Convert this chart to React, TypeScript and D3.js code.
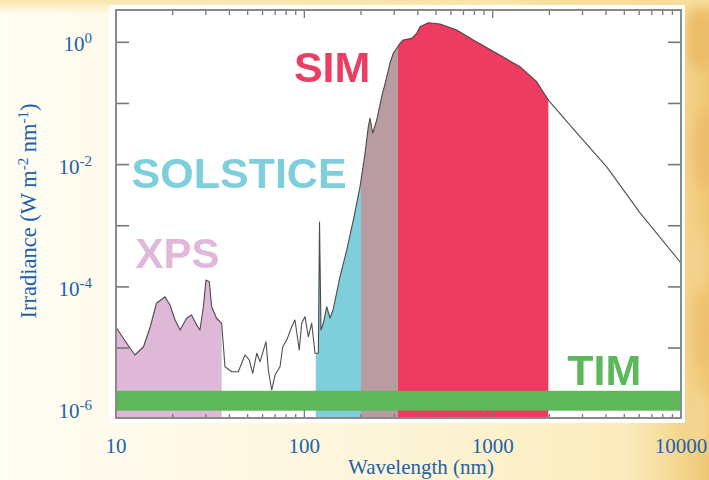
import React from "react";
import * as d3 from "d3";

// Solar spectral irradiance (nm, W m^-2 nm^-1)
const wavelengths = [
  10, 11.4, 12.6, 14.0, 15.2, 16.4, 18.2, 19.35, 20.6, 21.9,
  23.7, 25.2, 26.8, 27.9, 29.1, 30.05, 31.3, 32.2, 34.2, 36.4,
  37.9, 41.2, 44.6, 48.4, 51.0, 53.2, 55.9, 58.2, 62.6, 64.4,
  67.1, 69.9, 74.3, 76.8, 80.6, 85.7, 89.2, 94.0, 96.8, 100.8,
  105.0, 109.4, 114.0, 118.7, 120.4, 122.6, 126.1, 131.5, 136.9, 142.0,
  154.7, 167.9, 182.0, 197.6, 210.0, 218.7, 223.2, 230.7, 242.3, 257.5,
  271.5, 285.1, 296.8, 309.4, 322.2, 335.4, 371.6, 395.2, 411.4, 455.3,
  525.5, 644.2, 789.3, 1050, 1397, 1713, 1975, 2794, 4033, 6059,
  10000,
];
const irradiance = [
  2.18e-5, 1.2e-5, 7.7e-6, 1.05e-5, 2.23e-5, 5.4e-5, 6.9e-5, 5.06e-5, 2.88e-5, 1.97e-5,
  3.07e-5, 3.47e-5, 2.38e-5, 1.97e-5, 4.74e-5, 1.3e-4, 1.22e-4, 4.74e-5, 3.07e-5, 2.54e-5,
  4.95e-6, 4.1e-6, 4.1e-6, 7.7e-6, 6.4e-6, 3.86e-6, 8.2e-6, 5.98e-6, 1.27e-5, 4.38e-6,
  2.06e-6, 3.62e-6, 4.95e-6, 1.05e-5, 1.35e-5, 2.23e-5, 2.88e-5, 9.3e-6, 2.54e-5, 3.26e-5,
  1.53e-5, 2.54e-5, 8.2e-6, 8.2e-6, 1.15e-3, 1.97e-5, 2.54e-5, 4.74e-5, 3.1e-5, 4.19e-5,
  1.47e-4, 4.0e-4, 1.24e-3, 4.35e-3, 1.53e-2, 4.17e-2, 5.78e-2, 3.29e-2, 5.36e-2, 0.129,
  0.242, 0.459, 0.661, 0.798, 0.963, 1.09, 1.16, 1.40, 1.80, 2.09,
  1.99, 1.59, 1.09, 0.661, 0.399, 0.227, 0.1138, 0.0329, 9.2e-3, 1.62e-3,
  2.46e-4,
];

// Instrument coverage bands (nm)
const bandNames = ["XPS", "SOLSTICE", "SOLSTICE+SIM", "SIM"];
const bandFrom = [10, 115, 200, 314];
const bandTo = [36.4, 200, 314, 1975];

// TIM: total irradiance bar
const timRange = [1e-6, 2e-6];

// Labels: name, wavelength, irradiance anchor
const labelNames = ["SIM", "SOLSTICE", "XPS", "TIM"];
const labelWl = [88, 12.1, 12.7, 2490];
const labelIrr = [0.224, 4.14e-3, 2.04e-4, 2.49e-6];

const xTickLabels = ["10", "100", "1000", "10000"];
const yTickExps = [0, -2, -4, -6];

const fillColors: Record<string, string> = {
  XPS: "#dfb7d7",
  SOLSTICE: "#7fcedb",
  "SOLSTICE+SIM": "#b89ca2",
  SIM: "#ee3a62",
};
const labelColors: Record<string, string> = {
  SIM: "#ec3d62",
  SOLSTICE: "#7dcfdc",
  XPS: "#e0b9da",
  TIM: "#5cb85a",
};

const W = 709;
const H = 480;
const L = 116, R = 681, T = 10, B = 418;

const x = d3.scaleLog().domain([10, 10000]).range([L, R]);
const y = d3.scaleLog().domain([1e-6, 1]).range([409.2, 42.3]);

const pts: [number, number][] = wavelengths.map((w, i) => [w, irradiance[i]]);

function interp(w: number): number {
  for (let i = 0; i < pts.length - 1; i++) {
    const [w0, e0] = pts[i];
    const [w1, e1] = pts[i + 1];
    if (w >= w0 && w <= w1) {
      const t = (Math.log(w) - Math.log(w0)) / (Math.log(w1) - Math.log(w0));
      return Math.exp(Math.log(e0) + t * (Math.log(e1) - Math.log(e0)));
    }
  }
  return pts[pts.length - 1][1];
}

function segment(from: number, to: number): [number, number][] {
  const out: [number, number][] = [[from, interp(from)]];
  pts.forEach((p) => {
    if (p[0] > from && p[0] < to) out.push(p);
  });
  out.push([to, interp(to)]);
  return out;
}

const area = d3
  .area<[number, number]>()
  .x((d) => x(d[0]))
  .y0(B)
  .y1((d) => y(d[1]));

const line = d3
  .line<[number, number]>()
  .x((d) => x(d[0]))
  .y((d) => y(d[1]));

const xTicks = x.ticks();
const isMajor = (v: number) => Math.abs(Math.log10(v) - Math.round(Math.log10(v))) < 1e-9;
const yTickVals = d3.range(0, -7, -1).map((e) => Math.pow(10, e));

const axisColor = "#1d63a8";
const serif = "'Liberation Serif', 'Times New Roman', serif";
const sans = "'Liberation Sans', Arial, Helvetica, sans-serif";

export default function App() {
  return (
    <svg
      width={W}
      height={H}
      viewBox={`0 0 ${W} ${H}`}
      style={{ position: "fixed", left: 0, top: 0, display: "block" }}
    >
      <defs>
        <linearGradient id="bgH" x1="0" y1="0" x2="1" y2="0">
          <stop offset="0" stopColor="#fffdf4" />
          <stop offset="0.5" stopColor="#fdf6dc" />
          <stop offset="0.88" stopColor="#fbecbc" />
          <stop offset="0.96" stopColor="#f5d68e" />
          <stop offset="1" stopColor="#efc674" />
        </linearGradient>
        <linearGradient id="bgTop" x1="0" y1="0" x2="0" y2="1">
          <stop offset="0" stopColor="#f8e2a0" stopOpacity="0.9" />
          <stop offset="1" stopColor="#f8e2a0" stopOpacity="0" />
        </linearGradient>
        <filter id="blur" x="-50%" y="-50%" width="200%" height="200%">
          <feGaussianBlur stdDeviation="6" />
        </filter>
        <filter id="soft" x="-5%" y="-5%" width="110%" height="110%">
          <feGaussianBlur stdDeviation="0.6" />
        </filter>
        <clipPath id="plotClip">
          <rect x={L} y={T} width={R - L} height={B - T} />
        </clipPath>
      </defs>

      {/* background */}
      <rect x={0} y={0} width={W} height={H} fill="url(#bgH)" />
      <rect x={0} y={0} width={W} height={14} fill="url(#bgTop)" />
      <g filter="url(#blur)" opacity={0.7}>
        <ellipse cx={700} cy={40} rx={14} ry={30} fill="#e9b65e" />
        <ellipse cx={705} cy={150} rx={12} ry={40} fill="#eab866" />
        <ellipse cx={698} cy={260} rx={10} ry={30} fill="#f3d494" />
        <ellipse cx={704} cy={330} rx={12} ry={40} fill="#ecbe6c" />
        <ellipse cx={700} cy={420} rx={10} ry={30} fill="#f6dc9e" />
        <ellipse cx={600} cy={2} rx={80} ry={6} fill="#f4d68c" />
        <ellipse cx={400} cy={2} rx={90} ry={5} fill="#f7e2a8" />
      </g>

      {/* white panel */}
      <rect x={109} y={5} width={576} height={418} fill="#ffffff" />

      <g clipPath="url(#plotClip)">
        {bandNames.map((n, i) => (
          <path
            key={n}
            d={area(segment(bandFrom[i], bandTo[i])) || ""}
            fill={fillColors[n]}
            filter="url(#soft)"
          />
        ))}
        <path
          d={line(pts) || ""}
          fill="none"
          stroke="#3c3c3c"
          strokeWidth={1.1}
          strokeLinejoin="round"
          opacity={0.9}
        />
      </g>

      {/* y ticks */}
      {yTickVals.map((v) => (
        <g key={v} stroke="#777" strokeWidth={1.6}>
          <line x1={L} x2={L + 13} y1={y(v)} y2={y(v)} />
          <line x1={R - 13} x2={R} y1={y(v)} y2={y(v)} />
        </g>
      ))}

      {/* TIM band */}
      <rect
        x={L}
        width={R - L}
        y={y(timRange[1])}
        height={y(timRange[0]) - y(timRange[1]) + 1.5}
        fill="#5eb85b"
      />

      {/* x ticks */}
      {xTicks.map((v) => {
        const major = isMajor(v);
        return (
          <g key={v} stroke="#777" strokeWidth={1.3}>
            <line x1={x(v)} x2={x(v)} y1={B} y2={B - (major ? 8 : 4)} />
            <line x1={x(v)} x2={x(v)} y1={T} y2={T + (major ? 8 : 5)} />
          </g>
        );
      })}

      {/* frame */}
      <rect x={L} y={T} width={R - L} height={B - T} fill="none" stroke="#8a8a8a" strokeWidth={2} />

      {/* instrument labels */}
      {labelNames.map((n, i) => (
        <text
          key={n}
          x={x(labelWl[i])}
          y={y(labelIrr[i])}
          fill={labelColors[n]}
          fontFamily={sans}
          fontWeight="bold"
          fontSize={n === "XPS" ? 42 : 43}
          filter="url(#soft)"
        >
          {n}
        </text>
      ))}

      {/* x tick labels */}
      {xTickLabels.map((t) => (
        <text
          key={t}
          x={x(+t)}
          y={453}
          textAnchor="middle"
          fill={axisColor}
          fontFamily={serif}
          fontSize={21}
        >
          {t}
        </text>
      ))}
      <text
        x={421}
        y={474}
        textAnchor="middle"
        fill={axisColor}
        fontFamily={serif}
        fontSize={21}
      >
        Wavelength (nm)
      </text>

      {/* y tick labels */}
      {yTickExps.map((e) => (
        <text
          key={e}
          x={92}
          y={y(Math.pow(10, e)) + 9}
          textAnchor="end"
          fill={axisColor}
          fontFamily={serif}
          fontSize={21}
        >
          10
          <tspan dy={-8} fontSize={15}>
            {e === 0 ? "0" : String(e)}
          </tspan>
        </text>
      ))}

      {/* y title */}
      <text
        transform="translate(36,211) rotate(-90)"
        textAnchor="middle"
        fill={axisColor}
        fontFamily={serif}
        fontSize={22.5}
      >
        Irradiance (W m
        <tspan dy={-8} fontSize={15}>
          -2
        </tspan>
        <tspan dy={8}> nm</tspan>
        <tspan dy={-8} fontSize={15}>
          -1
        </tspan>
        <tspan dy={8}>)</tspan>
      </text>
    </svg>
  );
}
